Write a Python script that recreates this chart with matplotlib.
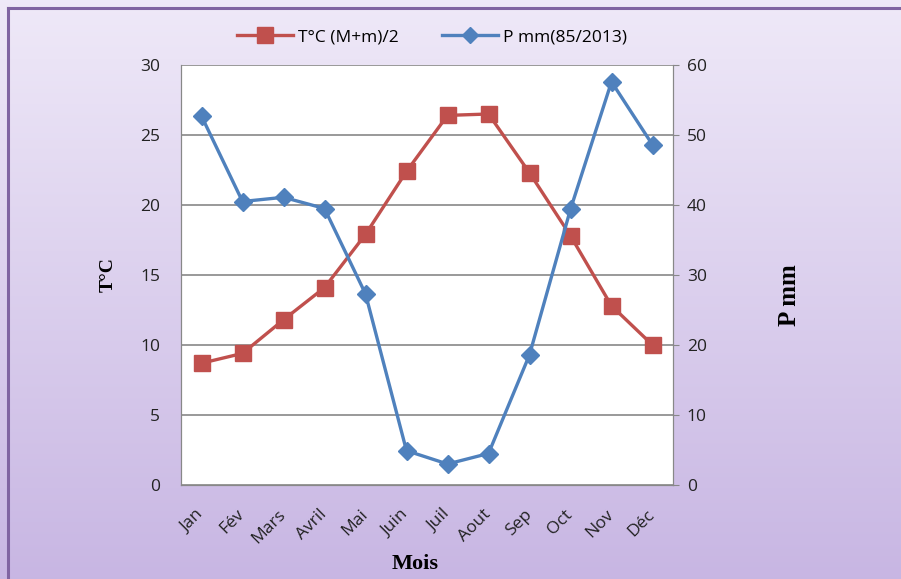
import numpy as np
import matplotlib.pyplot as plt
import matplotlib.transforms as mtransforms
from matplotlib.lines import Line2D

mois = ['Jan', 'Fév', 'Mars', 'Avril', 'Mai', 'Juin', 'Juil', 'Aout', 'Sep', 'Oct', 'Nov', 'Déc']
temp = [8.7, 9.4, 11.8, 14.1, 17.9, 22.4, 26.4, 26.5, 22.3, 17.8, 12.8, 10.0]
precip = [52.7, 40.5, 41.1, 39.5, 27.3, 4.9, 3.0, 4.5, 18.6, 39.4, 57.6, 48.6]

red = '#C0504D'
blue = '#4F81BD'
W, H = 901, 579

fig = plt.figure(figsize=(W / 100, H / 100), dpi=100)

# gradient background
bg = fig.add_axes([0, 0, 1, 1], zorder=-10)
grad = np.linspace(0, 1, 256).reshape(-1, 1)
top = np.array([0.937, 0.914, 0.973])
bot = np.array([0.784, 0.714, 0.890])
img = top[None, None, :] * (1 - grad[:, :, None]) + bot[None, None, :] * grad[:, :, None]
bg.imshow(img, aspect='auto', extent=[0, 1, 0, 1], origin='upper')
bg.plot([8 / W, 8 / W], [0, 1 - 8 / H], color='#8064A2', lw=2.2)
bg.plot([8 / W, 1], [1 - 8 / H, 1 - 8 / H], color='#8064A2', lw=2.2)
bg.set_xlim(0, 1)
bg.set_ylim(0, 1)
bg.axis('off')

x0, x1 = 181, 673
y0, y1 = 65, 485
ax = fig.add_axes([x0 / W, 1 - y1 / H, (x1 - x0) / W, (y1 - y0) / H])
ax.set_facecolor('white')
x = np.arange(len(mois))

ax.plot(x, temp, color=red, lw=2.4, marker='s', markersize=11, zorder=3)
ax.set_xlim(-0.5, 11.5)
ax.set_ylim(0, 30)
ax.set_yticks(range(0, 31, 5))
ax.grid(axis='y', color='#888888', lw=1.2)
ax.set_axisbelow(True)
for s in ax.spines.values():
    s.set_color('#888888')
ax.spines['top'].set_visible(False)
ax.tick_params(axis='y', length=0, pad=15, labelsize=12.5, colors='#222222')
ax.tick_params(axis='x', length=0, pad=6, labelsize=12.5, colors='#222222')
ax.set_xticks(x)
ax.set_xticklabels(mois, rotation=45, ha='right', rotation_mode='anchor', family='Open Sans')
shift = mtransforms.ScaledTranslation(-6 / 100, -13 / 100, fig.dpi_scale_trans)
for lab in ax.get_xticklabels():
    lab.set_transform(lab.get_transform() + shift)
for lab in ax.get_yticklabels():
    lab.set_family('Open Sans')

ax2 = ax.twinx()
ax2.plot(x, precip, color=blue, lw=2.4, marker='D', markersize=9, zorder=3)
ax2.set_ylim(0, 60)
ax2.set_yticks(range(0, 61, 10))
ax2.spines['top'].set_visible(False)
for s in ax2.spines.values():
    s.set_color('#888888')
ax2.tick_params(axis='y', length=4, color='#888888', pad=6, labelsize=12.5, labelcolor='#222222')
for lab in ax2.get_yticklabels():
    lab.set_family('Open Sans')

fig.text(108 / W, 1 - 275 / H, 'T°C', rotation=90, ha='center', va='center',
         family='Liberation Serif', weight='bold', fontsize=14)
fig.text(790 / W, 1 - 295 / H, 'P mm', rotation=90, ha='center', va='center',
         family='Liberation Serif', weight='bold', fontsize=18)
fig.text(415 / W, 1 - 564 / H, 'Mois', ha='center', va='center',
         family='Liberation Serif', weight='bold', fontsize=16)

handles = [Line2D([], [], color=red, lw=2.4, marker='s', markersize=11),
           Line2D([], [], color=blue, lw=2.4, marker='D', markersize=8)]
fig.legend(handles, ['T°C (M+m)/2', 'P mm(85/2013)'], loc='center',
           bbox_to_anchor=(432 / W, 1 - 37 / H), ncol=2, frameon=False,
           prop={'family': 'Open Sans', 'size': 12.5}, handlelength=3.2,
           columnspacing=2.5, handletextpad=0.3)

fig.savefig('out.png', dpi=100)
